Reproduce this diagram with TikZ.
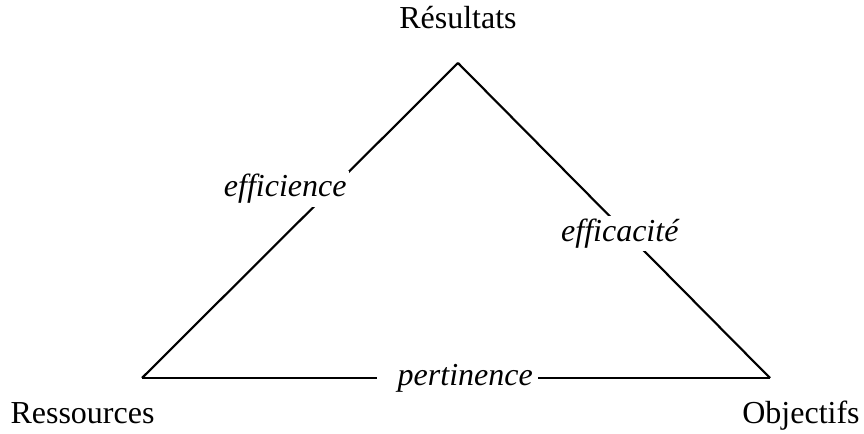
\documentclass[tikz,border=0pt]{standalone}
\usepackage{fontspec}
\setmainfont{Liberation Serif}
\usepackage{tikz}

\begin{document}
\begin{tikzpicture}[x=0.75pt, y=0.75pt, font=\fontsize{24}{28}\selectfont]
  \tikzset{
    cote/.style={line width=1.6pt},
    etiq/.style={fill=white, inner sep=2.25pt, font=\fontsize{24}{28}\selectfont\itshape},
    sommet/.style={anchor=base}
  }
  \useasboundingbox (0,0) rectangle (864,434);

  % les trois sommets
  \coordinate (top) at (458,371);
  \coordinate (gauche) at (142,56);
  \coordinate (droite) at (770,56);

  % noms des sommets
  \node[sommet] (resultats) at (458,405) {Résultats};
  \node[sommet] (ressources) at (82.5,10) {Ressources};
  \node[sommet] (objectifs) at (801,10) {Objectifs};

  % cotes du triangle
  \draw[cote] (gauche) -- (top)
    node[etiq, pos=0.66, anchor=north east] (efficience) {efficience};
  \draw[cote] (top) -- (droite)
    node[etiq, pos=0.541, xshift=-5.25pt] (efficacite) {efficacité};
  \draw[cote] (gauche) -- (droite)
    node[etiq, pos=0.502, inner xsep=3.75pt] (pertinence) {\hspace{12pt}pertinence};
\end{tikzpicture}
\end{document}
